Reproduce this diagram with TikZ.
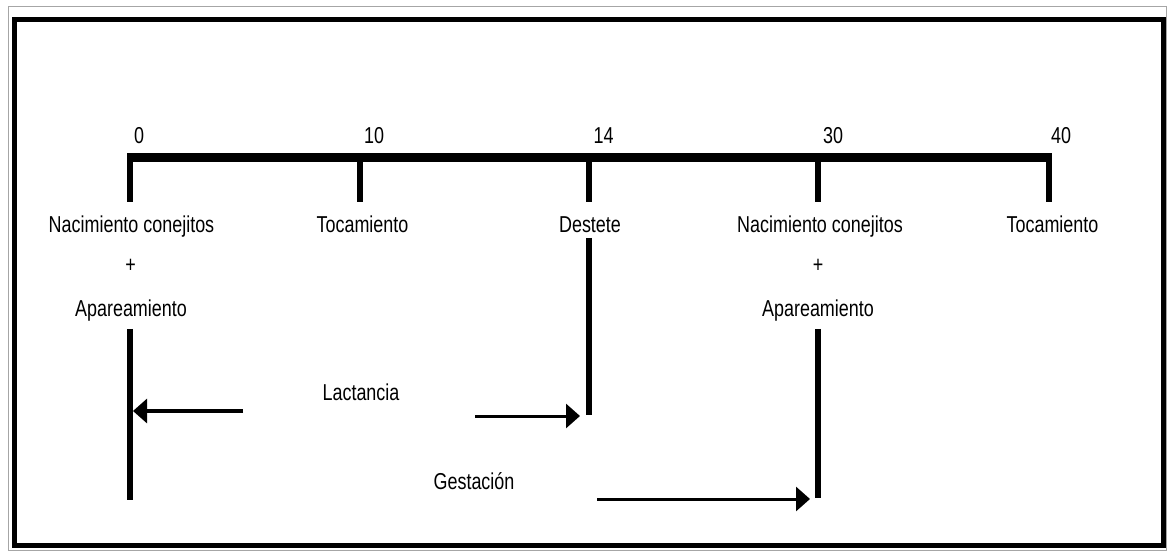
\documentclass[tikz,border=0pt]{standalone}
\usepackage{fontspec}
\setmainfont{Liberation Sans}[FakeStretch=0.78]
\usetikzlibrary{arrows.meta}
\begin{document}
\begin{tikzpicture}[x=1pt,y=-1pt,
  lbl/.style={inner sep=0pt, font=\fontsize{23}{27}\selectfont, anchor=base},
  barline/.style={line width=9pt},
  tickline/.style={line width=5.5pt},
  vline/.style={line width=5.5pt},
  arr/.style={line width=3pt, -{Triangle[length=14pt,width=24pt]}},
  outerframe/.style={draw=gray!70, line width=1.5pt},
  innerframe/.style={draw=black, line width=5pt}
]
\useasboundingbox (0,0) rectangle (1168,553);
% frame
\draw[outerframe] (8.5,6.5) rectangle (1166.5,550.5);
\draw[innerframe] (14.5,19.5) rectangle (1163.5,545.5);

% timeline
\coordinate (barL) at (127,158);
\coordinate (barR) at (1052,158);
\draw[barline] (barL) -- (barR);
\foreach \n/\x in {0/130,1/360,2/589,3/818,4/1049}{
  \coordinate (t\n top) at (\x,158);
  \coordinate (t\n bot) at (\x,202);
  \draw[tickline] (t\n top) -- (t\n bot);
}

% numbers
\node[lbl] (n0)  at (139,144) {0};
\node[lbl] (n10) at (374,144) {10};
\node[lbl] (n14) at (603.5,144) {14};
\node[lbl] (n30) at (833,144) {30};
\node[lbl] (n40) at (1061,144) {40};

% labels
\node[lbl] (nac1)  at (131.5,233) {Nacimiento conejitos};
\node[lbl] (plus1) at (130.5,273) {+};
\node[lbl] (apa1)  at (131,317) {Apareamiento};
\node[lbl] (toc1)  at (362.5,233) {Tocamiento};
\node[lbl] (dest)  at (590,233) {Destete};
\node[lbl] (nac2)  at (820,233) {Nacimiento conejitos};
\node[lbl] (plus2) at (818,273) {+};
\node[lbl] (apa2)  at (818,317) {Apareamiento};
\node[lbl] (toc2)  at (1052.5,233) {Tocamiento};
\node[lbl] (lact)  at (361,400) {Lactancia};
\node[lbl] (gest)  at (474,489) {Gestación};

% vertical lines
\coordinate (v1top) at (130,329);
\coordinate (v1bot) at (130,500);
\coordinate (v2top) at (589,238);
\coordinate (v2bot) at (589,415);
\coordinate (v3top) at (818,329);
\coordinate (v3bot) at (818,498);
\draw[vline] (v1top) -- (v1bot);
\draw[vline] (v2top) -- (v2bot);
\draw[vline] (v3top) -- (v3bot);

% arrows
\coordinate (a1s) at (243,411);
\coordinate (a1e) at (133,411);
\coordinate (a2s) at (475,416);
\coordinate (a2e) at (580,416);
\coordinate (a3s) at (597,499);
\coordinate (a3e) at (810,499);
\draw[arr] (a1s) -- (a1e);
\draw[arr] (a2s) -- (a2e);
\draw[arr] (a3s) -- (a3e);
\end{tikzpicture}
\end{document}
